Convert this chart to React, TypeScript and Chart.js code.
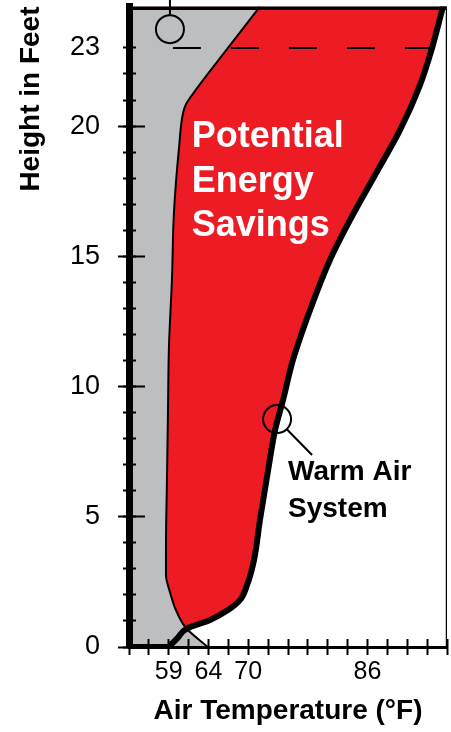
import React, { useEffect, useRef } from 'react';
import { Chart, registerables } from 'chart.js';

Chart.register(...registerables);

const FONT = '"Liberation Sans", Arial, Helvetica, sans-serif';

// Axis tick data
const heightTickValues = [0, 5, 10, 15, 20, 23];
const heightMajorTicks = [0, 5, 10, 15, 20];
const tempTickIndex = [2, 4, 6, 12];
const tempTickLabels = ['59', '64', '70', '86'];

// Thin boundary curve (x in temperature-tick units, y in feet)
const boundaryX = [3.97, 2.87, 2.36, 2.06, 1.86, 1.86, 1.91, 1.96, 2.01, 2.16, 2.26, 2.52, 2.72, 2.87, 3.17, 4.98, 6.59];
const boundaryY = [0, 0.73, 1.42, 2.11, 2.76, 3.84, 6.41, 8.98, 11.52, 14.09, 16.66, 19.19, 20.5, 20.84, 21.19, 23.0, 24.59];

// Warm air system curve
const warmAirX = [2.0, 2.45, 2.87, 4.08, 4.98, 5.58, 5.94, 6.29, 6.59, 7.0, 7.35, 7.75, 8.25, 9.11, 10.11, 11.12, 12.38, 13.64, 14.64, 15.25, 15.8];
const warmAirY = [0, 0.35, 0.69, 1.04, 1.42, 1.8, 2.38, 3.34, 4.88, 6.79, 8.33, 9.48, 11.02, 12.94, 14.86, 16.39, 18.12, 19.85, 21.57, 23.0, 24.59];

// Warm air base segment along the floor
const floorX = [0, 2.0];
const floorY = [0, 0];

// Dashed reference line at 23 ft
const dashX = [2.21, 15.25];
const dashY = [23, 23];

// Marker circles
const markerX = [2.06, 7.45];
const markerY = [23.72, 8.75];

// Leader lines
const topLeaderX = [2.06, 2.06];
const topLeaderY = [24.25, 25.3];
const warmLeaderX = [7.94, 9.21];
const warmLeaderY = [8.36, 7.37];

// Frame
const Y_MAX = 24.59;
const X_MAX = 16;
const topFrameX = [0, X_MAX];
const topFrameY = [Y_MAX, Y_MAX];
const rightFrameX = [X_MAX, X_MAX];
const rightFrameY = [0, Y_MAX];

const savingsLines = ['Potential', 'Energy', 'Savings'];
const warmLines = ['Warm Air', 'System'];

const pts = (xs: number[], ys: number[]) => xs.map((x, i) => ({ x, y: ys[i] }));

const RED = '#ED1C24';
const GRAY = '#BCBEC0';

const textPlugin = {
  id: 'annoText',
  afterDatasetsDraw(chart: any) {
    const { ctx } = chart;
    const xs = chart.scales.x;
    const ys = chart.scales.y;
    ctx.save();
    ctx.textAlign = 'left';
    ctx.textBaseline = 'alphabetic';
    ctx.fillStyle = '#ffffff';
    ctx.font = `bold 36px ${FONT}`;
    const sx = xs.getPixelForValue(3.16);
    const sy = ys.getPixelForValue(19.19);
    savingsLines.forEach((t, i) => ctx.fillText(t, sx, sy + i * 44.5));
    ctx.fillStyle = '#000000';
    ctx.font = `bold 28px ${FONT}`;
    const wx = xs.getPixelForValue(8.0);
    const wy = ys.getPixelForValue(6.41);
    warmLines.forEach((t, i) => ctx.fillText(t, wx, wy + i * 37));
    ctx.restore();
  },
};

const noPad = (s: any) => {
  s.paddingTop = 0;
  s.paddingBottom = 0;
  s.paddingLeft = 0;
  s.paddingRight = 0;
};

export default function App() {
  const ref = useRef<HTMLCanvasElement | null>(null);

  useEffect(() => {
    document.body.style.margin = '0';
    document.body.style.overflow = 'hidden';
    const canvas = ref.current;
    if (!canvas) return;
    const line = (data: any[], extra: any) => ({
      data,
      xAxisID: 'x',
      yAxisID: 'y',
      fill: false,
      borderColor: '#000',
      pointRadius: 0,
      ...extra,
    });
    const chart = new Chart(canvas, {
      type: 'line',
      data: {
        datasets: [
          line(pts(boundaryX, boundaryY), {
            borderWidth: 2,
            fill: { value: 0 },
            backgroundColor: GRAY,
            cubicInterpolationMode: 'monotone',
          }),
          line(pts(warmAirX, warmAirY), {
            borderWidth: 6,
            fill: { value: 0 },
            backgroundColor: RED,
            cubicInterpolationMode: 'monotone',
            borderCapStyle: 'round',
          }),
          line(pts(floorX, floorY), { borderWidth: 6 }),
          line(pts(dashX, dashY), { borderWidth: 2, borderDash: [28, 30] }),
          line(pts(markerX, markerY), {
            showLine: false,
            pointRadius: 14,
            pointBorderWidth: 2,
            pointBorderColor: '#000',
            pointBackgroundColor: 'rgba(0,0,0,0)',
          }),
          line(pts(topLeaderX, topLeaderY), { borderWidth: 2, clip: false }),
          line(pts(warmLeaderX, warmLeaderY), { borderWidth: 2 }),
          line(pts(topFrameX, topFrameY), { borderWidth: 7, borderCapStyle: 'square' }),
          line(pts(rightFrameX, rightFrameY), { borderWidth: 2.5 }),
        ],
      },
      options: {
        indexAxis: 'y',
        responsive: false,
        animation: false,
        devicePixelRatio: 1,
        layout: { autoPadding: false, padding: { top: 6.5, right: 4, bottom: 0, left: 0 } },
        elements: { point: { radius: 0 }, line: { tension: 0 } },
        plugins: {
          legend: { display: false },
          tooltip: { enabled: false },
          filler: { drawTime: 'beforeDatasetsDraw' },
        },
        scales: {
          x: {
            type: 'linear',
            axis: 'x',
            position: 'bottom',
            min: 0,
            max: X_MAX,
            grid: { display: false, drawTicks: false },
            border: { display: true, color: '#000', width: 3, z: 1 },
            ticks: {
              stepSize: 1,
              autoSkip: false,
              maxRotation: 0,
              padding: 10,
              color: '#000',
              font: { family: FONT, size: 25 },
              callback: (v: any) => {
                const i = tempTickIndex.indexOf(Number(v));
                return i >= 0 ? tempTickLabels[i] : '';
              },
            },
            title: {
              display: true,
              text: 'Air Temperature (°F)',
              color: '#000',
              font: { family: FONT, size: 28, weight: 'bold' },
              padding: { top: 0, bottom: 4 },
            },
            afterFit: (s: any) => {
              s.height = 85;
              noPad(s);
            },
          },
          xTicks: {
            type: 'linear',
            axis: 'x',
            position: { y: 0.307 },
            min: 0,
            max: X_MAX,
            ticks: { stepSize: 1, display: false, autoSkip: false },
            grid: { drawOnChartArea: false, drawTicks: true, tickLength: 16, tickWidth: 2, tickColor: '#000', z: 1 },
            border: { display: false },
            afterFit: noPad,
          },
          y: {
            type: 'linear',
            axis: 'y',
            position: 'left',
            min: 0,
            max: Y_MAX,
            afterBuildTicks: (s: any) => {
              s.ticks = heightTickValues.map((v) => ({ value: v }));
            },
            grid: { display: false, drawTicks: false },
            border: { display: true, color: '#000', width: 7, z: 1 },
            ticks: {
              padding: 29,
              color: '#000',
              font: { family: FONT, size: 27 },
            },
            title: {
              display: true,
              text: 'Height in Feet',
              align: 'end',
              color: '#000',
              font: { family: FONT, size: 28, weight: 'bold' },
              padding: { top: 14, bottom: 0 },
            },
            afterFit: (s: any) => {
              s.width = 129;
              noPad(s);
            },
          },
          yMinor: {
            type: 'linear',
            axis: 'y',
            position: { x: 0.352 },
            min: 0,
            max: Y_MAX,
            afterBuildTicks: (s: any) => {
              const t: any[] = [];
              for (let v = 0; v <= 23; v++) t.push({ value: v });
              s.ticks = t;
            },
            ticks: { display: false },
            grid: { drawOnChartArea: false, drawTicks: true, tickLength: 13, tickWidth: 2, tickColor: '#000', z: 1 },
            border: { display: false },
            afterFit: noPad,
          },
          yMajor: {
            type: 'linear',
            axis: 'y',
            position: { x: 0.805 },
            min: 0,
            max: Y_MAX,
            afterBuildTicks: (s: any) => {
              s.ticks = heightMajorTicks.map((v) => ({ value: v }));
            },
            ticks: { display: false },
            grid: { drawOnChartArea: false, drawTicks: true, tickLength: 27, tickWidth: 2, tickColor: '#000', z: 1 },
            border: { display: false },
            afterFit: noPad,
          },
        },
      } as any,
      plugins: [textPlugin],
    });
    return () => chart.destroy();
  }, []);

  return (
    <div style={{ width: 451, height: 732 }}>
      <canvas ref={ref} width={451} height={732} style={{ display: 'block' }} />
    </div>
  );
}
